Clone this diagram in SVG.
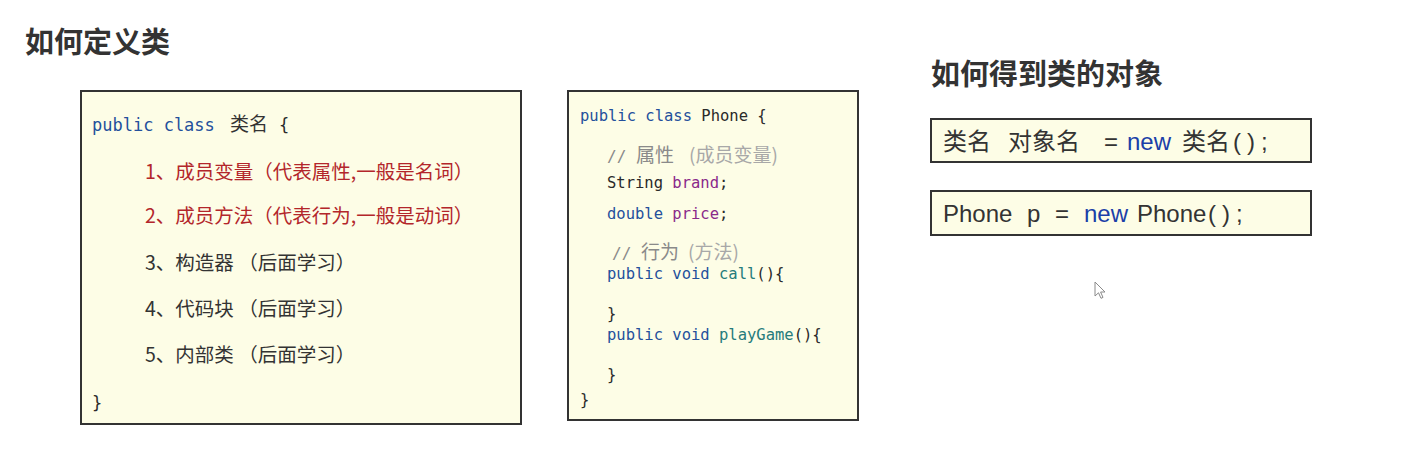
<svg xmlns="http://www.w3.org/2000/svg" width="1403" height="465" viewBox="0 0 1403 465">
<style>
.bg{fill:#ffffff}
.box{fill:#fdfde6;stroke:#333333;stroke-width:2}
.title{font-family:"Noto Sans CJK SC","Noto Sans",sans-serif;font-weight:700;font-size:29px;fill:#333333}
.mono{font-family:"DejaVu Sans Mono","Liberation Mono","Noto Sans CJK SC",monospace;fill:#2a2a2a}
.cjk{font-family:"Noto Sans CJK SC","Noto Sans",sans-serif}
.sans{font-family:"Liberation Sans","Noto Sans CJK SC",sans-serif;font-size:24px;fill:#333333}
.kw{fill:#24509c}
.red{fill:#b3262b}
.dark{fill:#333333}
.pur{fill:#8a2a8a}
.teal{fill:#267c7c}
.cm1{fill:#8a8a8a}
.cm2{fill:#a8a8a8}
.newkw{fill:#1b3fa8}
</style>
<rect class="bg" x="0" y="0" width="1403" height="465"/>

<g id="title-define">
<text class="title" x="25" y="53">如何定义类</text>
</g>

<g id="node-define-class">
<rect class="box" x="81" y="91" width="440" height="333"/>
<text class="mono" font-size="17" x="92" y="131"><tspan class="kw">public class</tspan><tspan class="cjk dark" x="230" font-size="19">类名</tspan><tspan x="279">{</tspan></text>
<text class="cjk red" font-size="19.5" x="145" y="179">1、成员变量（代表属性,一般是名词）</text>
<text class="cjk red" font-size="19.5" x="145" y="223">2、成员方法（代表行为,一般是动词）</text>
<text class="cjk dark" font-size="19.5" x="145" y="270">3、构造器 （后面学习）</text>
<text class="cjk dark" font-size="19.5" x="145" y="316">4、代码块 （后面学习）</text>
<text class="cjk dark" font-size="19.5" x="145" y="362">5、内部类 （后面学习）</text>
<text class="mono" font-size="17" x="92" y="409">}</text>
</g>

<g id="node-phone-class">
<rect class="box" x="568" y="91" width="290" height="329"/>
<text class="mono" font-size="15.5" x="580" y="121"><tspan class="kw">public class</tspan> Phone {</text>
<text class="mono cm1" font-size="16" x="607" y="162">//<tspan class="cjk cm1" x="636" font-size="19">属性</tspan><tspan class="cjk cm2" x="689" font-size="19">(成员变量)</tspan></text>
<text class="mono" font-size="15.5" x="607" y="188">String <tspan class="pur">brand</tspan>;</text>
<text class="mono" font-size="15.5" x="607" y="219"><tspan class="kw">double</tspan> <tspan class="pur">price</tspan>;</text>
<text class="mono cm1" font-size="16" x="612" y="259">//<tspan class="cjk cm1" x="641" font-size="19">行为</tspan><tspan class="cjk cm2" x="688" font-size="19">(方法)</tspan></text>
<text class="mono" font-size="15.5" x="607" y="279"><tspan class="kw">public void</tspan> <tspan class="teal">call</tspan>(){</text>
<text class="mono" font-size="15.5" x="607" y="319">}</text>
<text class="mono" font-size="15.5" x="607" y="340"><tspan class="kw">public void</tspan> <tspan class="teal">playGame</tspan>(){</text>
<text class="mono" font-size="15.5" x="607" y="380">}</text>
<text class="mono" font-size="15.5" x="580" y="405">}</text>
</g>

<g id="title-object">
<text class="title" x="931" y="85">如何得到类的对象</text>
</g>

<g id="node-syntax">
<rect class="box" x="931" y="119" width="380" height="43"/>
<text class="sans" y="150"><tspan x="943">类名</tspan><tspan x="1008">对象名</tspan><tspan x="1104">=</tspan><tspan class="newkw" x="1127">new</tspan><tspan x="1182">类名</tspan><tspan x="1233" letter-spacing="6">();</tspan></text>
</g>

<g id="node-example">
<rect class="box" x="931" y="191" width="380" height="44"/>
<text class="sans" y="222"><tspan x="943">Phone</tspan><tspan x="1027">p</tspan><tspan x="1055">=</tspan><tspan class="newkw" x="1084">new</tspan><tspan x="1137">Phone</tspan><tspan x="1208" letter-spacing="6">();</tspan></text>
</g>

<g id="connectors"></g>

<g id="cursor">
<path d="M1095,282 L1095,296 L1098.5,292.8 L1101,298.3 L1103,297.4 L1100.6,292 L1105,292 Z" fill="#ffffff" stroke="#8a8a8a" stroke-width="1" stroke-linejoin="round"/>
</g>
</svg>
